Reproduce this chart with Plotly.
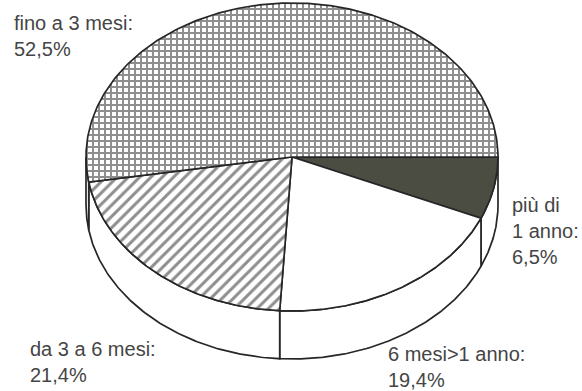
import numpy as np
import plotly.graph_objects as go

# Share of cases by duration (percent), drawn clockwise from 3 o'clock
labels = ["più di<br>1 anno:", "6 mesi>1 anno:", "da 3 a 6 mesi:", "fino a 3 mesi:"]
values = [6.5, 19.4, 21.4, 52.5]
value_text = ["6,5%", "19,4%", "21,4%", "52,5%"]

# Tilted-disc geometry (pixel space of the page)
CX, CY = 292.0, 157.0      # centre of the top face
RX, RY = 206.0, 154.0      # radii of the top ellipse
DEPTH = 48.0               # thickness of the disc
W, H = 582, 391

LINE = "#262626"
DARK = "#4b4d42"

# one face style per slice: (fillcolor, pattern)
styles = [
    (DARK, None),
    ("white", None),
    ("white", dict(shape="/", size=8, solidity=0.38, fgcolor="#1e1e1e", bgcolor="white")),
    ("white", dict(shape="+", size=6, solidity=0.55, fgcolor="#1e1e1e", bgcolor="white")),
]


def arc(a0, a1, dy=0.0, n=120):
    t = np.radians(np.linspace(a0, a1, n))
    return CX + RX * np.cos(t), CY + dy + RY * np.sin(t)


total = float(sum(values))
bounds = np.concatenate([[0.0], np.cumsum(values) / total * 360.0])

fig = go.Figure()

# side walls: only the front half (0..180 deg, screen y pointing down) shows
for i in range(len(values)):
    a0, a1 = max(bounds[i], 0.0), min(bounds[i + 1], 180.0)
    if a1 <= a0:
        continue
    xt, yt = arc(a0, a1)
    xb, yb = arc(a1, a0, DEPTH)
    xs = np.concatenate([xt, xb, xt[:1]])
    ys = np.concatenate([yt, yb, yt[:1]])
    fig.add_trace(go.Scatter(x=xs, y=ys, mode="lines", fill="toself",
                             fillcolor="white",
                             line=dict(color=LINE, width=1.7),
                             hoverinfo="skip", showlegend=False))

# top faces
for i in range(len(values)):
    xa, ya = arc(bounds[i], bounds[i + 1], n=240)
    xs = np.concatenate([[CX], xa, [CX]])
    ys = np.concatenate([[CY], ya, [CY]])
    color, pat = styles[i]
    kw = dict(fillpattern=pat) if pat else {}
    fig.add_trace(go.Scatter(x=xs, y=ys, mode="lines", fill="toself",
                             fillcolor=color,
                             line=dict(color=LINE, width=1.7),
                             hoverinfo="skip", showlegend=False, **kw))

# slice labels
label_pos = [(510, 192), (386, 341), (28, 336), (12, 10)]
for lab, vt, (lx, ly) in zip(labels, value_text, label_pos):
    fig.add_annotation(x=lx, y=ly, xref="x", yref="y",
                       text=f"{lab}<br>{vt}", showarrow=False,
                       xanchor="left", yanchor="top", align="left",
                       font=dict(family="Liberation Sans, Arial, sans-serif",
                                 size=20, color="#454545"))

fig.update_xaxes(range=[0, W], visible=False, fixedrange=True)
fig.update_yaxes(range=[H, 0], visible=False, fixedrange=True)
fig.update_layout(width=W, height=H, margin=dict(l=0, r=0, t=0, b=0),
                  paper_bgcolor="white", plot_bgcolor="white",
                  showlegend=False)

fig.write_html("out.html")
